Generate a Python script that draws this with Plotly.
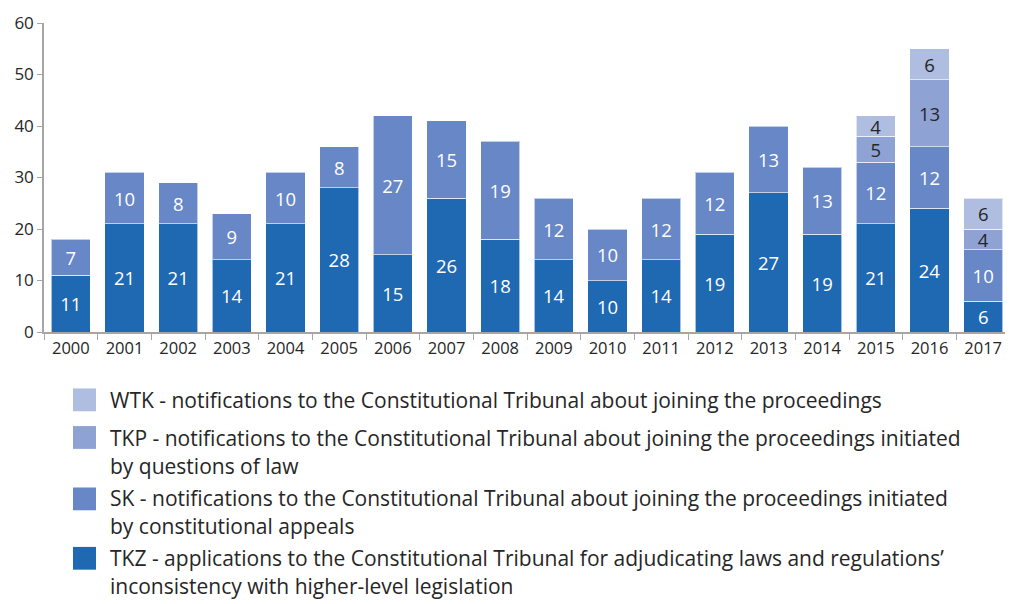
import plotly.graph_objects as go

# data
years = [str(y) for y in range(2000, 2018)]
tkz = [11, 21, 21, 14, 21, 28, 15, 26, 18, 14, 10, 14, 19, 27, 19, 21, 24, 6]
sk = [7, 10, 8, 9, 10, 8, 27, 15, 19, 12, 10, 12, 12, 13, 13, 12, 12, 10]
tkp = [None] * 15 + [5, 13, 4]
wtk = [None] * 15 + [4, 6, 6]

legend_lines = {
    "WTK": ["WTK - notifications to the Constitutional Tribunal about joining the proceedings"],
    "TKP": ["TKP - notifications to the Constitutional Tribunal about joining the proceedings initiated",
            "by questions of law"],
    "SK": ["SK - notifications to the Constitutional Tribunal about joining the proceedings initiated",
           "by constitutional appeals"],
    "TKZ": ["TKZ - applications to the Constitutional Tribunal for adjudicating laws and regulations\u2019",
            "inconsistency with higher-level legislation"],
}

colors = {"TKZ": "#1f69b3", "SK": "#6787c6", "TKP": "#8ea3d3", "WTK": "#afbde0"}
label_colors = {"TKZ": "white", "SK": "white", "TKP": "#262626", "WTK": "#262626"}
FONT = "Open Sans"
TXT = "#262626"

# page body has an 8px margin, so the figure sits at (8, 8)
OFF = 8
W, H = 1013 - OFF, 604 - OFF
# plot area in page pixels: x 44..1010, y 20..332
L, R, T, B = 44 - OFF, W - (1010 - OFF), 20 - OFF, H - (332 - OFF)
plot_w = W - L - R
plot_h = H - T - B


def px_x(px):
    return (px - OFF - L) / plot_w


def px_y(py):
    return (H - B - (py - OFF)) / plot_h


fig = go.Figure()
for name, vals in [("TKZ", tkz), ("SK", sk), ("TKP", tkp), ("WTK", wtk)]:
    fig.add_trace(go.Bar(
        x=years, y=vals, name=name,
        marker=dict(color=colors[name], line=dict(color="rgba(255,255,255,0.6)", width=1)),
        text=[("" if v is None else str(v)) for v in vals],
        textposition="inside", insidetextanchor="middle", textangle=0,
        constraintext="none",
        textfont=dict(color=label_colors[name], size=18.5, family=FONT),
        hoverinfo="x+y+name",
    ))

# legend drawn by hand so long labels can wrap like the original
square_top = {"WTK": 389, "TKP": 427, "SK": 489, "TKZ": 549}
line_y = {"WTK": [401], "TKP": [439, 467], "SK": [500, 528], "TKZ": [560, 588]}
for name in ["WTK", "TKP", "SK", "TKZ"]:
    top = square_top[name]
    fig.add_shape(type="rect", xref="paper", yref="paper",
                  x0=px_x(73), x1=px_x(96), y0=px_y(top + 23), y1=px_y(top),
                  fillcolor=colors[name], line=dict(width=0))
    for txt, yy in zip(legend_lines[name], line_y[name]):
        fig.add_annotation(xref="paper", yref="paper", x=px_x(108), y=px_y(yy),
                           xanchor="left", yanchor="middle", showarrow=False,
                           text=txt, font=dict(size=21, color=TXT, family=FONT))

fig.update_layout(
    barmode="stack",
    bargap=0.27,
    width=W, height=H,
    margin=dict(l=L, r=R, t=T, b=B),
    paper_bgcolor="white", plot_bgcolor="white",
    showlegend=False,
    font=dict(family=FONT, color=TXT, size=17),
    xaxis=dict(
        showline=True, linecolor="#a6a6a6", linewidth=1.5,
        ticks="outside", tickson="boundaries", ticklen=6, tickcolor="#a6a6a6",
        tickfont=dict(size=16.5, color=TXT), showgrid=False,
    ),
    yaxis=dict(
        range=[0, 60], tickvals=[0, 10, 20, 30, 40, 50, 60],
        ticklabeloverflow="allow",
        showline=True, linecolor="#a6a6a6", linewidth=1.5,
        ticks="outside", ticklen=5, tickcolor="#a6a6a6",
        tickfont=dict(size=17, color=TXT), showgrid=False, zeroline=False,
    ),
)

fig.write_html("out.html")
